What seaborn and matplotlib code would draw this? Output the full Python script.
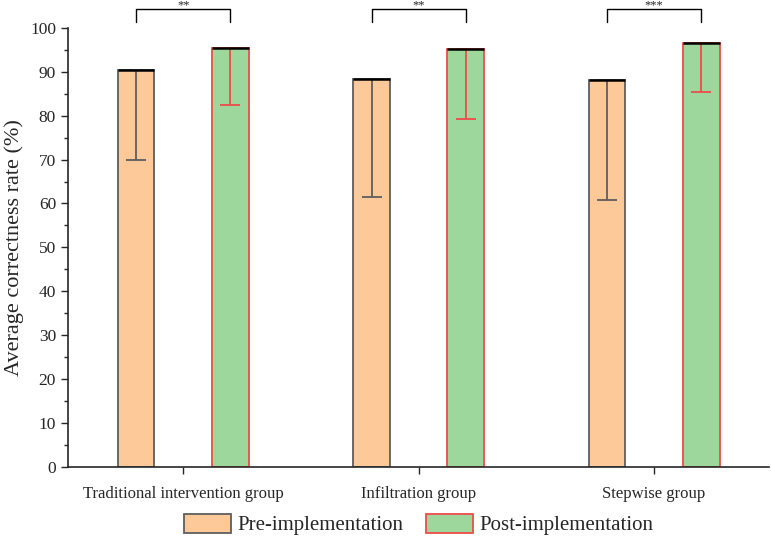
import pandas as pd
import seaborn as sns
import matplotlib.pyplot as plt
from matplotlib.patches import Patch

groups = ['Traditional intervention group', 'Infiltration group', 'Stepwise group']
phases = ['Pre-implementation', 'Post-implementation']
pre_mean = [90.4, 88.3, 88.1]
post_mean = [95.5, 95.1, 96.6]
pre_low = [69.8, 61.5, 60.7]
post_low = [82.5, 79.2, 85.3]
stars = ['**', '**', '***']

fill_colors = ['#FDC998', '#9DD79C']
edge_colors = ['#5E5E5E', '#EE4B4B']

df = pd.DataFrame({
    'group': groups * 2,
    'phase': [phases[0]] * 3 + [phases[1]] * 3,
    'rate': pre_mean + post_mean,
})

sns.set_style('ticks')
plt.rcParams['font.family'] = ['Liberation Serif', 'DejaVu Serif']
plt.rcParams['font.size'] = 11

fig = plt.figure(figsize=(7.71, 5.36), dpi=100)
ax = fig.add_axes([0.088, 0.129, 0.91, 0.819])
sns.barplot(data=df, x='group', y='rate', hue='phase', order=groups, hue_order=phases,
            palette=fill_colors, saturation=1, width=0.8, gap=0.61, errorbar=None,
            legend=False, ax=ax)

bar_sets = list(ax.containers)
lows = [pre_low, post_low]
means = [pre_mean, post_mean]
for k, cont in enumerate(bar_sets):
    for i, bar in enumerate(cont):
        bar.set_edgecolor(edge_colors[k])
        bar.set_linewidth(1.3)
        xc = bar.get_x() + bar.get_width() / 2
        ax.errorbar(xc, means[k][i], yerr=[[means[k][i] - lows[k][i]], [0]],
                    color=edge_colors[k], capsize=7, elinewidth=1.3, capthick=1.3, zorder=3)
        ax.hlines(means[k][i], bar.get_x(), bar.get_x() + bar.get_width(),
                  color='black', lw=1.8, zorder=4)

# significance brackets
for i in range(3):
    x0 = bar_sets[0][i].get_x() + bar_sets[0][i].get_width() / 2
    x1 = bar_sets[1][i].get_x() + bar_sets[1][i].get_width() / 2
    ax.plot([x0, x0, x1, x1], [101.4, 104.3, 104.3, 101.4], color='black', lw=1,
            clip_on=False)
    ax.text((x0 + x1) / 2, 104.4, stars[i], ha='center', va='baseline', fontsize=9,
            clip_on=False)

ax.set_ylim(0, 100)
ax.set_xlim(-0.49, 2.49)
ax.set_yticks(range(0, 101, 10))
ax.set_yticks(range(5, 100, 10), minor=True)
ax.tick_params(axis='y', labelsize=12.5, length=5, width=1)
ax.tick_params(axis='y', which='minor', length=3, width=1)
ax.tick_params(axis='x', labelsize=12, length=5, width=1, pad=9)
ax.set_xlabel('')
ax.set_ylabel('Average correctness rate (%)', fontsize=16, labelpad=4)
sns.despine(ax=ax)
for s in ['left', 'bottom']:
    ax.spines[s].set_linewidth(1.2)

handles = [Patch(facecolor=fill_colors[k], edgecolor=edge_colors[k], lw=1.3, label=phases[k])
           for k in range(2)]
fig.legend(handles=handles, loc='center', bbox_to_anchor=(0.543, 0.021), ncol=2,
           frameon=False, fontsize=15, handlelength=2.25, handleheight=1.0,
           columnspacing=1.1, handletextpad=0.3)

plt.savefig('out.png', dpi=100)
